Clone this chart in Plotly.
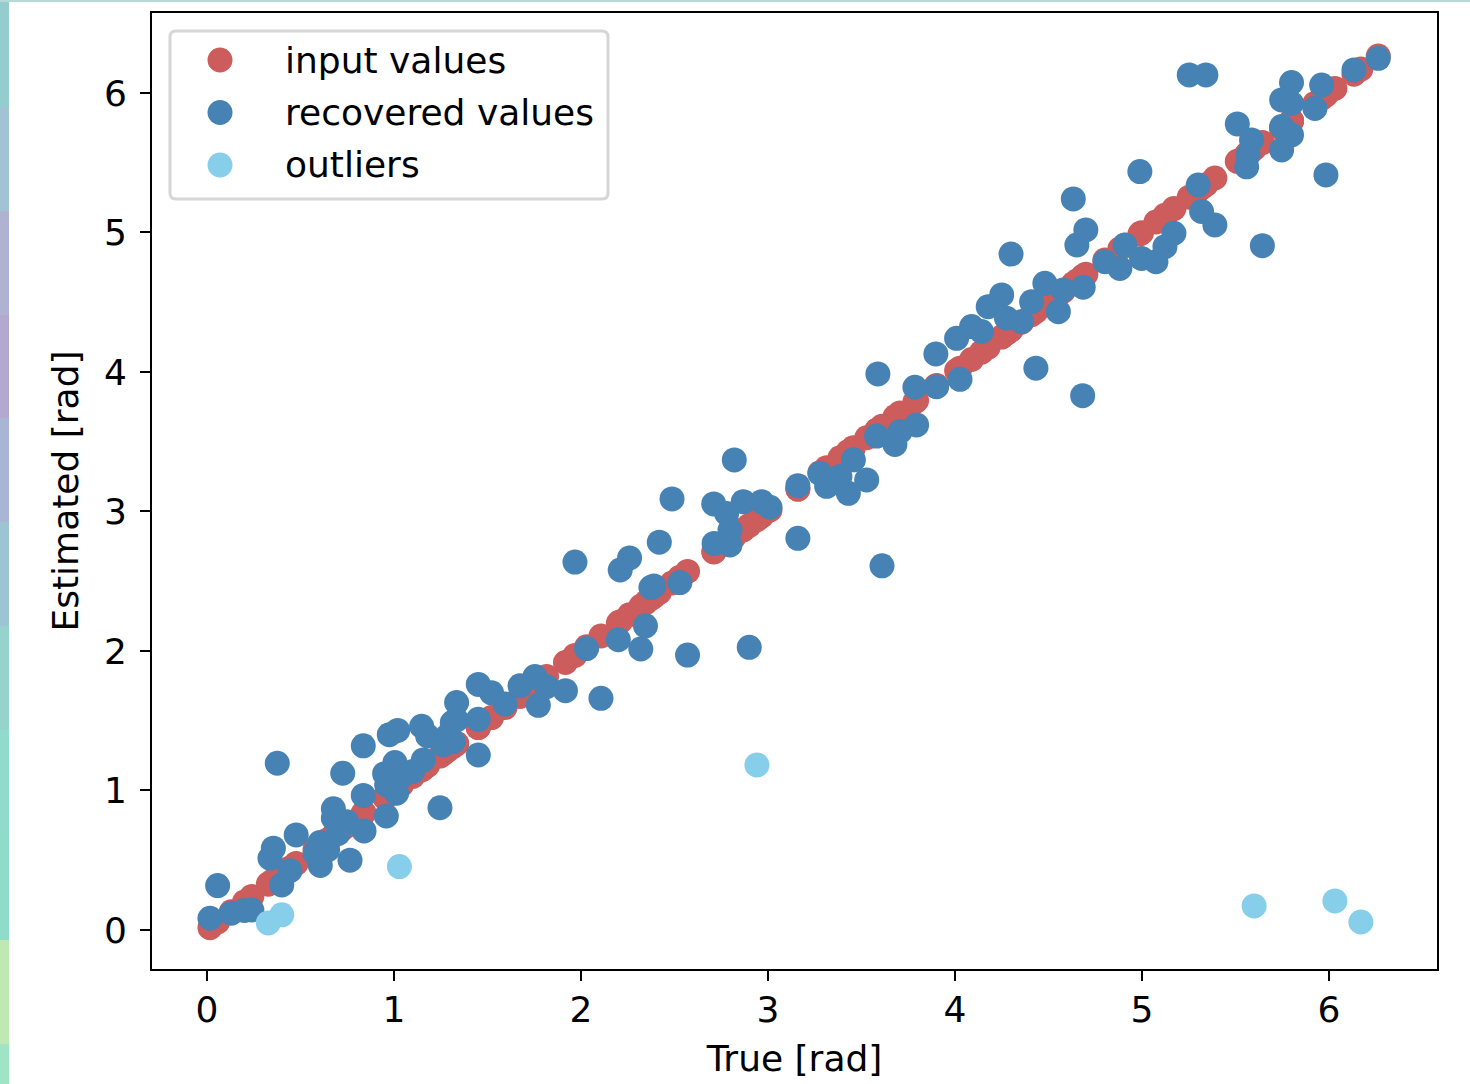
import plotly.graph_objects as go

# ---- data ----
recovered_true = [
    0.016, 0.057, 0.13, 0.20, 0.24, 0.376, 0.40, 0.444, 0.337, 0.355, 0.477, 0.578,
    0.604, 0.645, 0.606, 0.676, 0.676, 0.747, 0.702, 0.726, 0.765, 0.84, 0.836, 0.836,
    0.959, 1.014, 0.95, 0.961, 1.005, 1.04, 1.10, 1.157, 0.975, 1.02, 1.148, 1.18,
    1.246, 1.312, 1.285, 1.317, 1.264, 1.335, 1.335, 1.451, 1.451, 1.451, 1.522, 1.594,
    1.674, 1.754, 1.772, 1.816, 1.917, 2.107, 1.968, 2.03, 2.20, 2.21, 2.26, 2.32,
    2.345, 2.374, 2.39, 2.419, 2.487, 2.529, 2.57, 2.71, 2.779, 2.868, 2.966, 3.011,
    2.797, 2.712, 2.797, 2.82, 2.90, 3.16, 3.16, 3.278, 3.314, 3.43, 3.457, 3.385,
    3.528, 3.581, 3.679, 3.706, 3.795, 3.588, 3.61, 3.786, 3.902, 4.027, 3.898, 4.009,
    4.089, 4.142, 4.178, 4.25, 4.276, 4.356, 4.41, 4.481, 4.553, 4.579, 4.686, 4.30,
    4.433, 4.633, 4.652, 4.70, 4.683, 4.989, 4.802, 4.882, 4.909, 4.998, 5.075, 5.123,
    5.171, 5.301, 5.319, 5.39, 5.253, 5.342, 5.51, 5.586, 5.568, 5.56, 5.644, 5.80,
    5.747, 5.80, 5.747, 5.80, 5.747, 5.961, 5.925, 5.984, 6.134, 6.264,
]
recovered_est = [
    0.084, 0.318, 0.12, 0.14, 0.143, 1.195, 0.323, 0.425, 0.514, 0.586, 0.681, 0.55,
    0.627, 0.573, 0.462, 0.868, 0.80, 0.776, 0.692, 1.123, 0.50, 0.71, 0.964, 1.32,
    0.817, 0.98, 1.12, 1.039, 1.20, 1.10, 1.135, 1.219, 1.40, 1.43, 1.46, 1.39,
    0.876, 1.487, 1.39, 1.35, 1.326, 1.63, 1.505, 1.76, 1.51, 1.254, 1.70, 1.62,
    1.75, 1.816, 1.61, 1.744, 1.715, 1.66, 2.637, 2.017, 2.08, 2.58, 2.667, 2.014,
    2.18, 2.454, 2.466, 2.78, 3.09, 2.49, 1.97, 3.054, 2.986, 3.07, 3.07, 3.03,
    2.867, 2.771, 2.76, 3.369, 2.026, 2.807, 3.185, 3.273, 3.18, 3.13, 3.37, 3.25,
    3.226, 3.54, 3.48, 3.572, 3.62, 3.986, 2.61, 3.89, 3.894, 3.947, 4.129, 4.241,
    4.325, 4.29, 4.468, 4.552, 4.385, 4.36, 4.503, 4.635, 4.432, 4.588, 4.607, 4.845,
    4.027, 5.24, 4.91, 5.018, 3.83, 5.436, 4.79, 4.742, 4.91, 4.814, 4.79, 4.898,
    4.994, 5.34, 5.15, 5.054, 6.129, 6.129, 5.778, 5.663, 5.556, 5.47, 4.905, 6.074,
    5.95, 5.925, 5.759, 5.699, 5.591, 6.057, 5.889, 5.412, 6.165, 6.248,
]
outlier_true = [0.328, 0.40, 1.029, 2.941, 5.60, 6.032, 6.171]
outlier_est = [0.05, 0.108, 0.454, 1.183, 0.172, 0.208, 0.057]

# input values lie on the identity: true value vs. itself
input_true = sorted(recovered_true + outlier_true)
input_est = list(input_true)

x_ticks = [0, 1, 2, 3, 4, 5, 6]
y_ticks = [0, 1, 2, 3, 4, 5, 6]
legend_labels = ["input values", "recovered values", "outliers"]

RED = "#cd5c5c"
BLUE = "#4682b4"
SKY = "#87ceeb"
FONT = "DejaVu Sans"
FS = 36
MS = 25

W, H = 1470, 1084
L, R, T, B = 152, 33, 13, 115
PW, PH = W - L - R, H - T - B


def px(x):
    return (x - L) / PW


def py(y):
    return 1 - (y - T) / PH


fig = go.Figure()
fig.add_trace(go.Scatter(x=input_true, y=input_est, mode="markers", name=legend_labels[0],
                         marker=dict(color=RED, size=MS, line=dict(width=0)), showlegend=False))
fig.add_trace(go.Scatter(x=recovered_true, y=recovered_est, mode="markers", name=legend_labels[1],
                         marker=dict(color=BLUE, size=MS, line=dict(width=0)), showlegend=False))
fig.add_trace(go.Scatter(x=outlier_true, y=outlier_est, mode="markers", name=legend_labels[2],
                         marker=dict(color=SKY, size=MS, line=dict(width=0)), showlegend=False))

shapes = []
annotations = []

# decorative page strip on the left edge
strip = [(0, 107, "#95cccd"), (107, 211, "#a3c2d3"), (211, 315, "#b0b2d2"), (315, 418, "#b3a8cf"),
         (418, 522, "#a8b5d5"), (522, 626, "#9dc4d3"), (626, 730, "#95d3cc"), (730, 833, "#92dacb"),
         (833, 940, "#90dccb"), (940, 1044, "#c0e8b2"), (1044, 1084, "#a0e4c6")]
for y0, y1, c in strip:
    shapes.append(dict(type="rect", xref="paper", yref="paper", x0=px(0), x1=px(9),
                       y0=py(y1), y1=py(y0), fillcolor=c, line=dict(width=0), layer="below"))
shapes.append(dict(type="rect", xref="paper", yref="paper", x0=px(0), x1=px(W),
                   y0=py(2), y1=py(0), fillcolor="#b5d9d6", line=dict(width=0), layer="below"))

# legend box (rounded)
lx0, lx1, ly0, ly1, r = 170, 608, 31, 199, 6
rx, ry = r / PW, r / PH
X0, X1, Y0, Y1 = px(lx0), px(lx1), py(ly1), py(ly0)
path = (f"M {X0+rx},{Y0} L {X1-rx},{Y0} Q {X1},{Y0} {X1},{Y0+ry} L {X1},{Y1-ry} "
        f"Q {X1},{Y1} {X1-rx},{Y1} L {X0+rx},{Y1} Q {X0},{Y1} {X0},{Y1-ry} "
        f"L {X0},{Y0+ry} Q {X0},{Y0} {X0+rx},{Y0} Z")
shapes.append(dict(type="path", xref="paper", yref="paper", path=path,
                   fillcolor="rgba(255,255,255,0.8)", line=dict(color="#d6d6d6", width=3)))
for i, (lab, c) in enumerate(zip(legend_labels, [RED, BLUE, SKY])):
    cy = 60 + i * 52.5
    shapes.append(dict(type="circle", xref="paper", yref="paper",
                       x0=px(220 - MS / 2), x1=px(220 + MS / 2),
                       y0=py(cy + MS / 2), y1=py(cy - MS / 2),
                       fillcolor=c, line=dict(width=0)))
    annotations.append(dict(xref="paper", yref="paper", x=px(283), y=py(cy), text=lab,
                            showarrow=False, xanchor="left", yanchor="middle",
                            font=dict(family=FONT, size=FS, color="black")))

axis_common = dict(showline=True, mirror=True, linecolor="black", linewidth=2,
                   ticks="outside", ticklen=10, tickwidth=2, tickcolor="black",
                   showgrid=False, zeroline=False, automargin=False,
                   tickfont=dict(family=FONT, size=FS, color="black"))

fig.update_layout(
    width=W, height=H,
    margin=dict(l=L, r=R, t=T, b=B, pad=0),
    paper_bgcolor="white", plot_bgcolor="white",
    showlegend=False,
    shapes=shapes, annotations=annotations,
    xaxis=dict(range=[-0.294, 6.578], tickvals=x_ticks, ticktext=[str(v) for v in x_ticks],
               title=dict(text="True [rad]", font=dict(family=FONT, size=FS, color="black"), standoff=17),
               ticklabelstandoff=-2, **axis_common),
    yaxis=dict(range=[-0.28, 6.573], tickvals=y_ticks, ticktext=[str(v) for v in y_ticks],
               title=dict(text="Estimated [rad]", font=dict(family=FONT, size=FS, color="black"), standoff=14),
               ticklabelstandoff=6, **axis_common),
)

fig.write_html("out.html")
